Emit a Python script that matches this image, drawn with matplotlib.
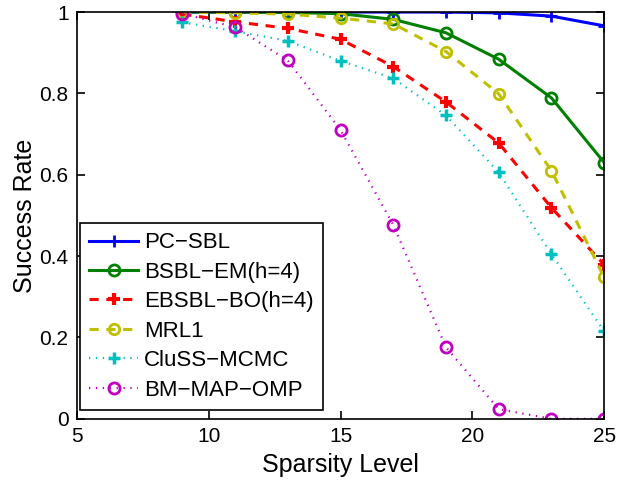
import matplotlib
matplotlib.use("Agg")
import matplotlib.pyplot as plt

plt.rcParams['font.family'] = ['Liberation Sans', 'DejaVu Sans']

x = [9, 11, 13, 15, 17, 19, 21, 23, 25]
pc_sbl = [1.0, 1.0, 1.0, 1.0, 1.0, 1.0, 0.998, 0.99, 0.966]
bsbl_em = [1.0, 1.0, 0.999, 0.996, 0.982, 0.949, 0.884, 0.789, 0.630]
ebsbl_bo = [0.995, 0.976, 0.960, 0.933, 0.866, 0.779, 0.678, 0.519, 0.379]
mrl1 = [1.0, 0.998, 0.995, 0.985, 0.971, 0.903, 0.799, 0.610, 0.348]
cluss = [0.975, 0.953, 0.929, 0.880, 0.837, 0.746, 0.606, 0.405, 0.215]
bm_map = [0.996, 0.963, 0.881, 0.710, 0.477, 0.176, 0.024, 0.0, 0.0]

labels = ['PC\u2212SBL', 'BSBL\u2212EM(h=4)', 'EBSBL\u2212BO(h=4)', 'MRL1',
          'CluSS\u2212MCMC', 'BM\u2212MAP\u2212OMP']
xticks = [5, 10, 15, 20, 25]
yticks = [0, 0.2, 0.4, 0.6, 0.8, 1]
ytick_labels = ['0', '0.2', '0.4', '0.6', '0.8', '1']

fig = plt.figure(figsize=(6.3, 4.82), dpi=100)
ax = fig.add_axes([0.122, 0.131, 0.837, 0.844])

ax.plot(x, pc_sbl, color=(0, 0, 1), ls='-', lw=2.2, marker='+', ms=9, mew=2, label=labels[0])
ax.plot(x, bsbl_em, color=(0, 0.5, 0), ls='-', lw=2.2, marker='o', ms=8, mew=2, mfc='none', label=labels[1])
ax.plot(x, ebsbl_bo, color=(1, 0, 0), ls=(0, (3, 2.5)), lw=2.2, marker='+', ms=9, mew=3, label=labels[2])
ax.plot(x, mrl1, color=(0.75, 0.75, 0), ls=(0, (3, 2.5)), lw=2.2, marker='o', ms=7.5, mew=2, mfc='none', label=labels[3])
ax.plot(x, cluss, color=(0, 0.75, 0.75), ls=(0, (0.6, 2.5)), lw=1.6, marker='+', ms=9, mew=2.5, label=labels[4])
ax.plot(x, bm_map, color=(0.75, 0, 0.75), ls=(0, (0.6, 2.5)), lw=1.6, marker='o', ms=8, mew=2, mfc='none', label=labels[5])

ax.set_xlim(5, 25)
ax.set_ylim(0, 1)
ax.set_xticks(xticks)
ax.set_yticks(yticks)
ax.set_yticklabels(ytick_labels)
ax.tick_params(direction='in', top=True, right=True, labelsize=15, length=6, width=1.2, pad=6)
for s in ax.spines.values():
    s.set_linewidth(1.2)
ax.set_xlabel('Sparsity Level', fontsize=18, labelpad=5)
ax.set_ylabel('Success Rate', fontsize=18, labelpad=2)

leg = ax.legend(loc='lower left', bbox_to_anchor=(0.006, 0.022), borderaxespad=0,
                fontsize=16, fancybox=False, framealpha=1,
                edgecolor='black', handlelength=2.2,
                labelspacing=0.38, handletextpad=0.25, borderpad=0.42)
leg.get_frame().set_linewidth(1.2)

fig.savefig('out.png', dpi=100)
